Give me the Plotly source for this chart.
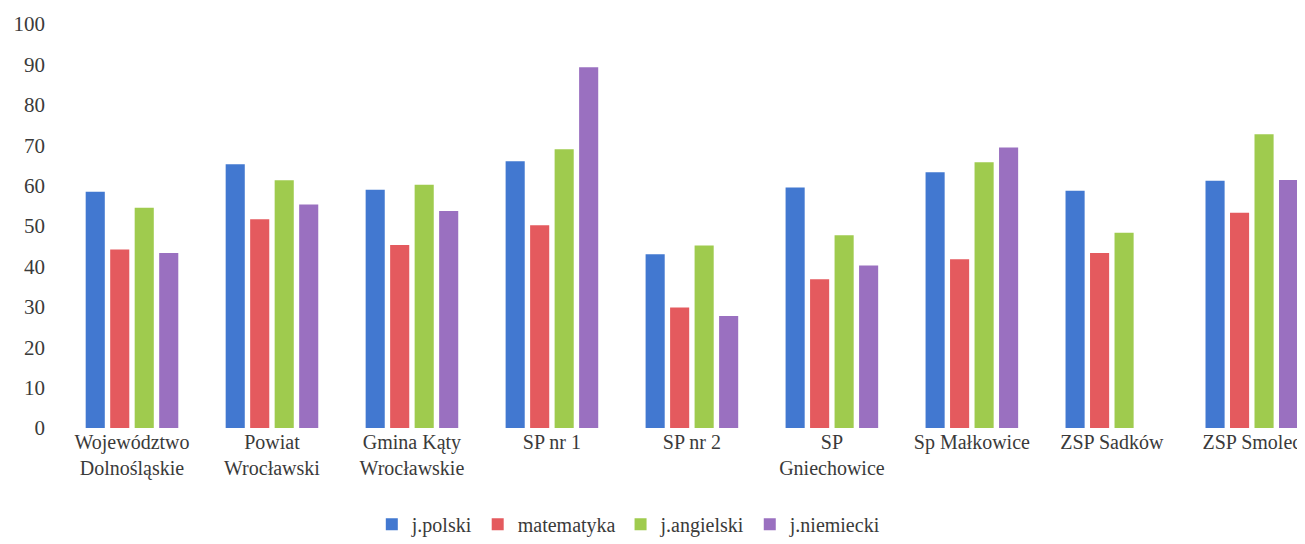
import plotly.graph_objects as go

categories = ["Województwo<br>Dolnośląskie", "Powiat<br>Wrocławski", "Gmina Kąty<br>Wrocławskie",
              "SP nr 1", "SP nr 2", "SP<br>Gniechowice", "Sp Małkowice", "ZSP Sadków", "ZSP Smolec"]
j_polski = [58.5, 65.3, 59.0, 66.0, 43.0, 59.5, 63.3, 58.7, 61.2]
matematyka = [44.2, 51.7, 45.3, 50.2, 29.8, 36.8, 41.8, 43.3, 53.3]
j_angielski = [54.5, 61.3, 60.2, 69.0, 45.2, 47.7, 65.8, 48.3, 72.7]
j_niemiecki = [43.3, 55.3, 53.7, 89.3, 27.7, 40.2, 69.4, None, 61.4]
y_ticks = [0, 10, 20, 30, 40, 50, 60, 70, 80, 90, 100]

series = [("j.polski", j_polski, "#4278d0"),
          ("matematyka", matematyka, "#e45a5e"),
          ("j.angielski", j_angielski, "#9fcb4e"),
          ("j.niemiecki", j_niemiecki, "#9a70c0")]

fig = go.Figure()
for name, vals, col in series:
    fig.add_trace(go.Bar(x=categories, y=vals, name=name, marker_color=col,
                         marker_line_width=0))

font = "Liberation Serif, Times New Roman, serif"
fig.update_layout(
    width=1297, height=536,
    paper_bgcolor="white", plot_bgcolor="white",
    margin=dict(l=54, r=0, t=16, b=116),
    barmode="group", bargap=0.3, bargroupgap=0.22,
    font=dict(family=font, color="#3a3a3a"),
    showlegend=True,
    legend=dict(orientation="h", x=0.456, xanchor="center", y=-0.19, yanchor="top",
                font=dict(size=20, family=font, color="#3a3a3a"),
                itemwidth=30, tracegroupgap=0),
)
fig.update_xaxes(range=[-0.5, 8.38], showgrid=False, showline=False, ticks="",
                 automargin=False,
                 tickfont=dict(size=20, family=font, color="#3a3a3a"))
fig.update_yaxes(range=[0, 100], tickvals=y_ticks, showgrid=False, zeroline=False,
                 showline=False, ticks="", ticklabelstandoff=16, automargin=False,
                 tickfont=dict(size=21, family=font, color="#3a3a3a"))

fig.write_html("out.html")
